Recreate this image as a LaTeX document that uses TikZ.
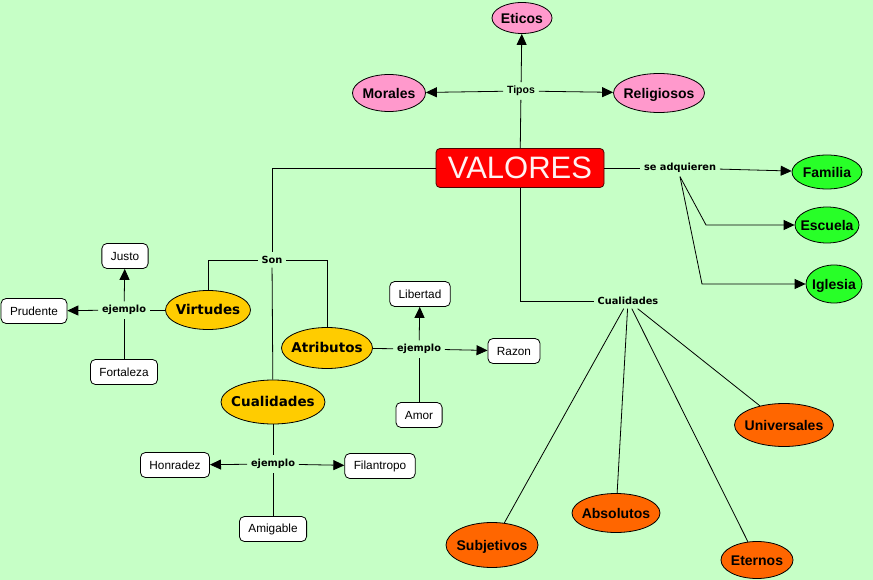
\documentclass[tikz,border=0pt]{standalone}
\usepackage{fontspec}
\setmainfont{Liberation Sans}
\newfontfamily\verdfont{DejaVu Sans}
\usepackage{xcolor}
\usetikzlibrary{arrows.meta}
\usetikzlibrary{shapes.geometric}
\definecolor{mapbg}{RGB}{198,255,198}
\definecolor{tipospink}{RGB}{255,153,204}
\definecolor{lugargreen}{RGB}{40,255,40}
\definecolor{sonyellow}{RGB}{255,204,0}
\definecolor{cualorange}{RGB}{255,102,0}
\definecolor{valred}{RGB}{255,0,0}
\def\conceptfont{\fontsize{14}{16}\selectfont\bfseries}
\def\sonfont{\verdfont\fontsize{13.5}{16}\selectfont\bfseries}
\def\linkfont{\verdfont\fontsize{9.8}{12}\selectfont\bfseries}
\def\exfont{\fontsize{11.8}{14}\selectfont}
\newcommand{\ctext}[1]{\makebox[0pt]{\raisebox{-0.36em}[0pt][0pt]{#1}}}

\begin{document}
\begin{tikzpicture}[x=1pt, y=-1pt, line width=0.8pt,
		ellbase/.style={ellipse, draw=black, line width=0.8pt, inner sep=0pt},
		pinkell/.style={ellbase, fill=tipospink, font=\conceptfont},
		greenell/.style={ellbase, fill=lugargreen, font=\conceptfont},
		orangeell/.style={ellbase, fill=cualorange, font=\conceptfont},
		yellowell/.style={ellbase, fill=sonyellow, font=\sonfont},
		exbox/.style={draw=black, fill=white, rounded corners=5pt, font=\exfont,
			minimum height=25pt, inner xsep=9pt},
		linkl/.style={font=\linkfont, inner sep=3.5pt},
		arr/.style={-{Triangle[length=11pt,width=10pt]}},
	]
		\fill[mapbg] (0,0) rectangle (873,580);
		\useasboundingbox (0,0) rectangle (873,580);
		\node[draw=black!70!red, fill=valred, rounded corners=4pt, text=red!5,
			font=\fontsize{31}{34}\selectfont, minimum width=168pt, minimum height=39pt,
			inner sep=0pt] (valores) at (520,168) {VALORES};
		\node[linkl, font=\fontsize{10.5}{12}\selectfont\bfseries] (tipos) at (521,91) {Tipos};
		\node[pinkell, minimum width=60pt, minimum height=31pt] (eticos) at (522,18) {\ctext{Eticos}};
		\node[pinkell, minimum width=73pt, minimum height=37pt] (morales) at (389,93) {\ctext{Morales}};
		\node[pinkell, minimum width=91pt, minimum height=39pt] (religiosos) at (659,93) {\ctext{Religiosos}};
		\node[linkl] (adquieren) at (680,168) {se adquieren};
		\node[greenell, minimum width=70pt, minimum height=34pt] (familia) at (827,172) {\ctext{Familia}};
		\node[greenell, minimum width=64pt, minimum height=36pt] (escuela) at (827,225) {\ctext{Escuela}};
		\node[greenell, minimum width=56pt, minimum height=38pt] (iglesia) at (834,284) {\ctext{Iglesia}};
		\coordinate (kescuela) at (706,225);
		\coordinate (kiglesia) at (702,284);
		\node[linkl] (son) at (272,260) {Son};
		\node[yellowell, minimum width=85pt, minimum height=39pt] (virtudes) at (208,310) {\ctext{Virtudes}};
		\node[yellowell, minimum width=91pt, minimum height=41pt] (atributos) at (327,348) {\ctext{Atributos}};
		\node[yellowell, minimum width=104pt, minimum height=44pt] (cualidadesson) at (273,402) {\ctext{Cualidades}};
		\node[linkl] (ejvirtudes) at (124,310) {ejemplo};
		\node[exbox] (justo) at (125,256) {Justo};
		\node[exbox] (prudente) at (34,311) {Prudente};
		\node[exbox] (fortaleza) at (124,372) {Fortaleza};
		\node[linkl] (ejatributos) at (419,349) {ejemplo};
		\node[exbox] (libertad) at (420,294) {Libertad};
		\node[exbox] (razon) at (514,351) {Razon};
		\node[exbox] (amor) at (419,415) {Amor};
		\node[linkl] (ejcualidades) at (273,464) {ejemplo};
		\node[exbox] (honradez) at (175,465) {Honradez};
		\node[exbox] (filantropo) at (380,466) {Filantropo};
		\node[exbox] (amigable) at (273,529) {Amigable};
		\node[linkl] (cualidades) at (628,301) {Cualidades};
		\node[orangeell, minimum width=92pt, minimum height=45pt] (subjetivos) at (492,545) {\ctext{Subjetivos}};
		\node[orangeell, minimum width=88pt, minimum height=39pt] (absolutos) at (616,513) {\ctext{Absolutos}};
		\node[orangeell, minimum width=72pt, minimum height=37pt] (eternos) at (757,560) {\ctext{Eternos}};
		\node[orangeell, minimum width=99pt, minimum height=43pt] (universales) at (784,425) {\ctext{Universales}};
		\draw (valores) -- (tipos);
		\draw[arr] (tipos) -- (eticos);
		\draw[arr] (tipos) -- (morales);
		\draw[arr] (tipos) -- (religiosos);
		\draw (valores) -- (adquieren);
		\draw[arr] (adquieren) -- (familia);
		\draw[arr] (adquieren.south) -- (kescuela) -- (escuela);
		\draw[arr] (adquieren.south) -- (kiglesia) -- (iglesia);
		\draw (valores.west) -| (son.north);
		\draw (son) -- (cualidadesson);
		\draw (son.west) -| (virtudes.north);
		\draw (son.east) -| (atributos.north);
		\draw (virtudes) -- (ejvirtudes);
		\draw[arr] (ejvirtudes) -- (justo);
		\draw[arr] (ejvirtudes) -- (prudente);
		\draw (fortaleza) -- (ejvirtudes);
		\draw (atributos) -- (ejatributos);
		\draw[arr] (ejatributos) -- (libertad);
		\draw[arr] (ejatributos) -- (razon);
		\draw (amor) -- (ejatributos);
		\draw (cualidadesson) -- (ejcualidades);
		\draw[arr] (ejcualidades) -- (honradez);
		\draw[arr] (ejcualidades) -- (filantropo);
		\draw (amigable) -- (ejcualidades);
		\draw (valores.south) |- (cualidades.west);
		\draw (cualidades) -- (subjetivos);
		\draw (cualidades) -- (absolutos);
		\draw (cualidades) -- (eternos);
		\draw (cualidades) -- (universales);
	\end{tikzpicture}
\end{document}
